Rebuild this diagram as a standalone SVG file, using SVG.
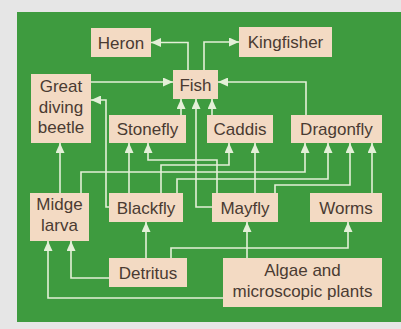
<svg xmlns="http://www.w3.org/2000/svg" width="401" height="329" viewBox="0 0 401 329">
<defs>
<style>
.box{fill:#f3dac3;}
.t{font-family:"Liberation Sans",Arial,sans-serif;font-size:17px;fill:#4a3b32;text-anchor:middle;}
.c{fill:none;stroke:#e4f0d8;stroke-width:1.6;marker-end:url(#ah);}
</style>
<marker id="ah" markerUnits="userSpaceOnUse" markerWidth="10" markerHeight="9" refX="10" refY="4.5" orient="auto">
<path d="M0,0 L10,4.5 L0,9 z" fill="#e4f0d8"/>
</marker>
</defs>
<rect x="0" y="0" width="401" height="329" fill="#e6e6e6"/>
<rect x="17" y="12" width="384" height="310" fill="#3e9b3f"/>
<g id="connectors">
<path class="c" d="M188,70 V42.5 H151"/>
<path class="c" d="M204,70 V42 H239"/>
<path class="c" d="M91,82 H173"/>
<path class="c" d="M306,115 V82 H218"/>
<path class="c" d="M181,115 V99"/>
<path class="c" d="M212,115 V99"/>
<path class="c" d="M212,207 H196 V99"/>
<path class="c" d="M109,207 H106 V100 H91"/>
<path class="c" d="M60,193 V143"/>
<path class="c" d="M129,193 V143"/>
<path class="c" d="M217,193 V160 H148 V143"/>
<path class="c" d="M255,193 V143"/>
<path class="c" d="M161,193 V165 H229 V143"/>
<path class="c" d="M81,193 V172 H305 V143"/>
<path class="c" d="M177,193 V179 H328 V143"/>
<path class="c" d="M275,193 V185 H350 V143"/>
<path class="c" d="M372,193 V143"/>
<path class="c" d="M146,258 V222"/>
<path class="c" d="M171,258 V248 H348 V222"/>
<path class="c" d="M247,258 V222"/>
<path class="c" d="M109,278 H71 V241"/>
<path class="c" d="M223,298 H48 V241"/>
</g>
<g id="heron"><rect class="box" x="91" y="28" width="60" height="29"/><text class="t" x="121" y="48.5">Heron</text></g>
<g id="kingfisher"><rect class="box" x="239" y="27" width="93" height="30"/><text class="t" x="285.5" y="48">Kingfisher</text></g>
<g id="fish"><rect class="box" x="173" y="70" width="45" height="29"/><text class="t" x="195.5" y="90.5">Fish</text></g>
<g id="beetle"><rect class="box" x="31" y="74" width="60" height="69"/><text class="t" x="61" y="92">Great</text><text class="t" x="61" y="112.5">diving</text><text class="t" x="61" y="133">beetle</text></g>
<g id="stonefly"><rect class="box" x="109" y="115" width="77" height="28"/><text class="t" x="147.5" y="134.5">Stonefly</text></g>
<g id="caddis"><rect class="box" x="207" y="115" width="66" height="28"/><text class="t" x="240" y="134.5">Caddis</text></g>
<g id="dragonfly"><rect class="box" x="291" y="115" width="91" height="28"/><text class="t" x="336.5" y="134.5">Dragonfly</text></g>
<g id="midge"><rect class="box" x="30" y="193" width="59" height="48"/><text class="t" x="59.5" y="210">Midge</text><text class="t" x="59.5" y="231">larva</text></g>
<g id="blackfly"><rect class="box" x="109" y="193" width="74" height="29"/><text class="t" x="146" y="213.5">Blackfly</text></g>
<g id="mayfly"><rect class="box" x="212" y="193" width="66" height="29"/><text class="t" x="245" y="213.5">Mayfly</text></g>
<g id="worms"><rect class="box" x="310" y="193" width="72" height="29"/><text class="t" x="346" y="213.5">Worms</text></g>
<g id="detritus"><rect class="box" x="109" y="258" width="78" height="29"/><text class="t" x="148" y="278.5">Detritus</text></g>
<g id="algae"><rect class="box" x="223" y="258" width="159" height="49"/><text class="t" x="302.5" y="276">Algae and</text><text class="t" x="302.5" y="297">microscopic plants</text></g>
</svg>
